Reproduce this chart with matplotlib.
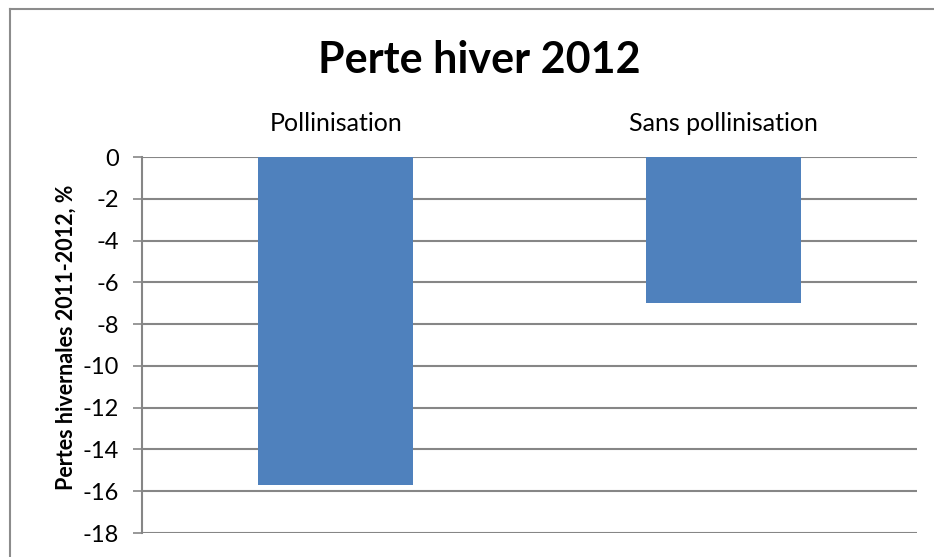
import matplotlib
matplotlib.use("Agg")
import matplotlib.pyplot as plt
from matplotlib.lines import Line2D

plt.rcParams['font.family'] = ['Lato', 'DejaVu Sans']

categories = ["Pollinisation", "Sans pollinisation"]
values = [-15.7, -7.0]
y_ticks = list(range(0, -19, -2))

W, H = 934, 557
fig = plt.figure(figsize=(W / 100, H / 100), dpi=100)
fig.patch.set_facecolor("white")

ax = fig.add_axes([142 / W, 1 - 533 / H, (917 - 142) / W, (533 - 157) / H])
x = list(range(len(categories)))
ax.bar(x, values, width=0.4, color="#4F81BD", zorder=3)

ax.set_xlim(-0.5, len(categories) - 0.5)
ax.set_ylim(-18, 0)
ax.set_yticks(y_ticks)
ax.set_yticklabels([str(v) for v in y_ticks], fontsize=17)
ax.yaxis.grid(True, color="#868686", linewidth=1.5, zorder=0)
ax.set_axisbelow(True)

ax.xaxis.tick_top()
ax.set_xticks(x)
ax.set_xticklabels(categories, fontsize=18)
ax.tick_params(axis="x", length=0, pad=16)
ax.tick_params(axis="y", direction="out", length=6.5, width=1.2,
               color="#868686", pad=10)

for side in ["top", "right", "bottom"]:
    ax.spines[side].set_visible(False)
ax.spines["left"].set_color("#868686")
ax.spines["left"].set_linewidth(1.5)

fig.text(66 / W, 1 - 337 / H, "Pertes hivernales 2011-2012, %",
         rotation=90, ha="center", va="center", fontsize=15.5, fontweight="bold")
fig.text(479 / W, 1 - 60 / H, "Perte hiver 2012", ha="center", va="center",
         fontsize=31, fontweight="bold")

# chart-area border (top and left edges)
fig.add_artist(Line2D([9.5 / W, 1.0], [1 - 8.5 / H, 1 - 8.5 / H],
                      transform=fig.transFigure, color="#8c8c8c", linewidth=1.5))
fig.add_artist(Line2D([9.5 / W, 9.5 / W], [0.0, 1 - 8.5 / H],
                      transform=fig.transFigure, color="#8c8c8c", linewidth=1.5))

fig.savefig("out.png", dpi=100, facecolor="white")
